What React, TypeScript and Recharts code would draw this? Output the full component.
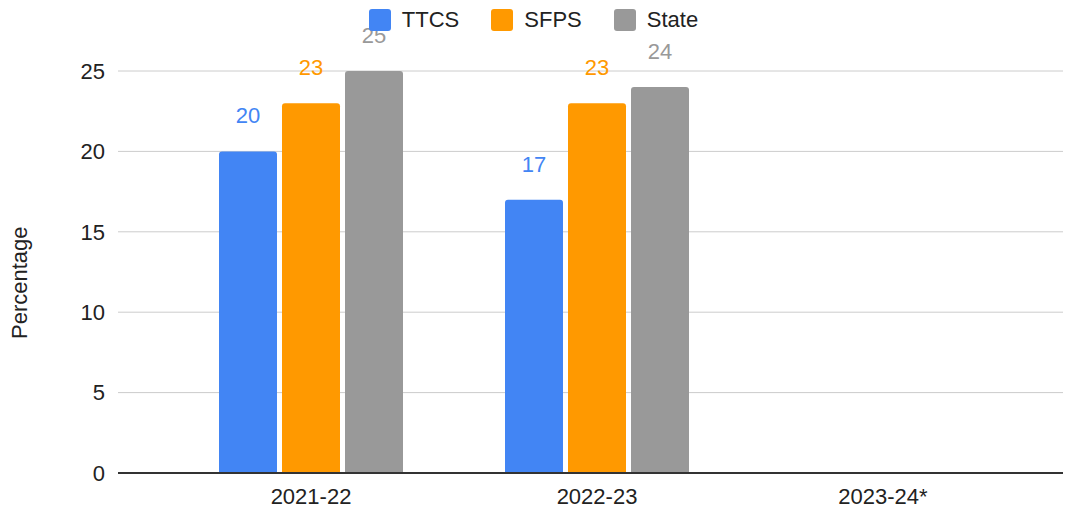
import React from 'react';
import { BarChart, Bar, XAxis, YAxis, CartesianGrid, LabelList } from 'recharts';

const years = ['2021-22', '2022-23', '2023-24*'];
const ttcs = [20, 17, null];
const sfps = [23, 23, null];
const state = [25, 24, null];
const yTicks = [0, 5, 10, 15, 20, 25];

const series = [
  { key: 'TTCS', values: ttcs, color: '#4285F4' },
  { key: 'SFPS', values: sfps, color: '#FF9900' },
  { key: 'State', values: state, color: '#999999' },
];

const data = years.map((year, i) => ({
  year,
  TTCS: ttcs[i],
  SFPS: sfps[i],
  State: state[i],
}));

const FONT = '"Liberation Sans", Arial, sans-serif';
const FS = 22;

function LegendBox() {
  return (
    <div
      style={{
        position: 'absolute', left: 0, top: 9, width: 1065, height: 22,
        display: 'flex', justifyContent: 'center', alignItems: 'center',
        fontFamily: FONT, fontSize: FS, color: '#222', paddingLeft: 2, boxSizing: 'border-box',
      }}
    >
      {series.map((s) => (
        <div key={s.key} style={{ display: 'flex', alignItems: 'center', margin: '0 16px' }}>
          <div style={{ width: 22, height: 22, borderRadius: 3, background: s.color, marginRight: 11 }} />
          <span>{s.key}</span>
        </div>
      ))}
    </div>
  );
}

export default function App() {
  return (
    <div style={{ position: 'absolute', left: 0, top: 0, width: 1065, height: 512, background: '#fff' }}>
      <BarChart
        width={1065}
        height={512}
        data={data}
        margin={{ top: 71, right: 2, bottom: 0, left: 0 }}
        barCategoryGap={51}
        barGap={5}
      >
        <CartesianGrid vertical={false} stroke="#cccccc" />
        <XAxis
          dataKey="year"
          height={39}
          padding={{ left: 50, right: 37 }}
          tickLine={false}
          tickSize={0}
          tickMargin={15}
          axisLine={{ stroke: '#333333', strokeWidth: 2 }}
          tick={{ fill: '#222222', fontSize: FS, fontFamily: FONT }}
        />
        <YAxis
          width={118}
          domain={[0, 25]}
          ticks={yTicks}
          interval={0}
          axisLine={false}
          tickLine={false}
          tickSize={0}
          tickMargin={13}
          tick={{ fill: '#222222', fontSize: FS, fontFamily: FONT }}
          label={{ value: 'Percentage', angle: -90, position: 'insideLeft', dx: 14, dy: 67, style: { fill: '#222222', fontSize: FS, fontFamily: FONT } }}
        />
        {series.map((s) => (
          <Bar key={s.key} dataKey={s.key} fill={s.color} radius={[3, 3, 0, 0]} isAnimationActive={false}>
            <LabelList dataKey={s.key} position="top" offset={28} fill={s.color} fontSize={FS} fontFamily={FONT} />
          </Bar>
        ))}
      </BarChart>
      <LegendBox />
    </div>
  );
}
